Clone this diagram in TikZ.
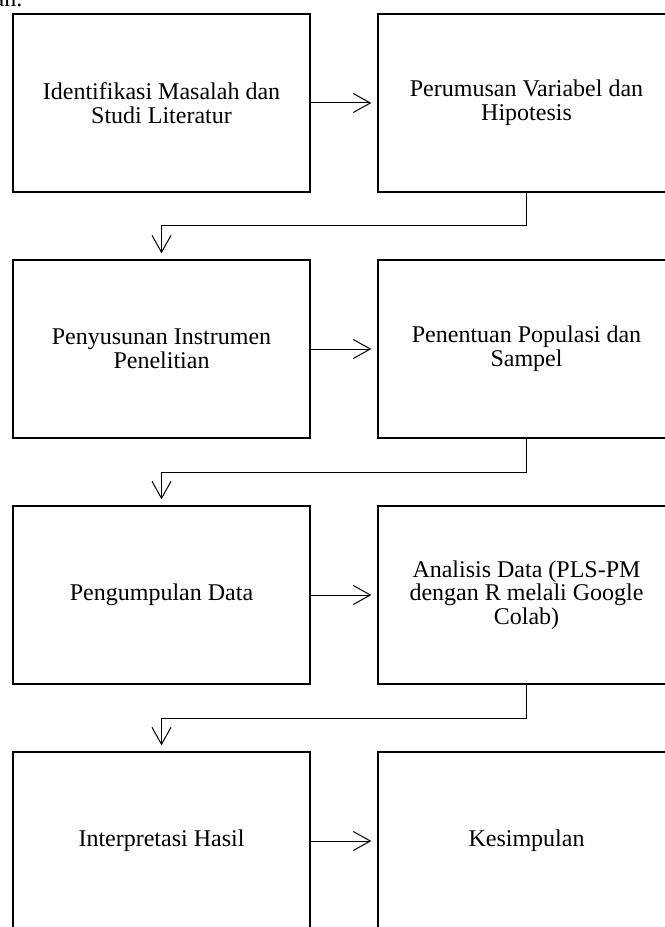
\documentclass[tikz,border=0pt]{standalone}
\usepackage{fontspec}
\setmainfont{Liberation Serif}
\usepackage{tikz}
\usetikzlibrary{positioning,calc,arrows.meta}

\tikzset{
    stage/.style={draw, line width=1.5pt, rectangle, minimum width=222.75pt,
        minimum height=133.5pt, align=center, outer sep=0pt, inner sep=4pt,
        font=\fontsize{18}{17.8}\selectfont},
    flow/.style={line width=0.75pt,
        -{Straight Barb[length=12.75pt,width=14.25pt]}, shorten >=5pt}
}

\begin{document}
\begin{tikzpicture}
    \useasboundingbox (0,0) rectangle (498pt,-695.25pt);
    % cut-off text above the chart
    \node[anchor=base east, inner sep=0pt, font=\fontsize{18}{17.8}\selectfont] (top) at (17pt,-5.25pt) {an.};

    % Row 1
    \node[stage] (l1) at (121.125pt,-77.25pt) {Identifikasi Masalah dan\\Studi Literatur};
    \node[stage, right=51pt of l1] (r1) {Perumusan Variabel dan\\Hipotesis};
    % Row 2
    \node[stage, below=51pt of l1] (l2) {Penyusunan Instrumen\\Penelitian};
    \node[stage, right=51pt of l2] (r2) {Penentuan Populasi dan\\Sampel};
    % Row 3
    \node[stage, below=51pt of l2] (l3) {Pengumpulan Data};
    \node[stage, right=51pt of l3] (r3) {Analisis Data (PLS-PM\\dengan R melali Google\\Colab)};
    % Row 4
    \node[stage, below=51pt of l3] (l4) {Interpretasi Hasil};
    \node[stage, right=51pt of l4] (r4) {Kesimpulan};

    % arrows
    \foreach \i in {1,...,4} {
        \draw[flow] (l\i) -- (r\i);
    }
    \foreach \i/\j in {1/2, 2/3, 3/4} {
        \draw[flow] (r\i.south) -- ($(r\i.south)!0.5!(r\i.south |- l\j.north)$) -| (l\j.north);
    }
\end{tikzpicture}
\end{document}
